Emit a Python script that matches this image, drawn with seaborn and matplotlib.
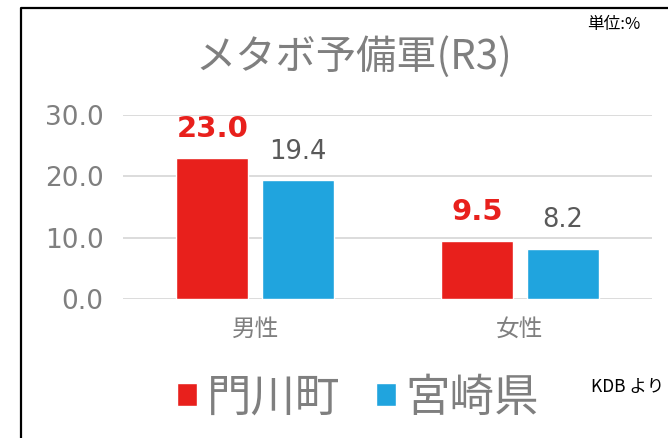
import matplotlib
matplotlib.use("Agg")
import matplotlib.pyplot as plt
import seaborn as sns
import pandas as pd
from matplotlib.lines import Line2D

categories = ["男性", "女性"]
series_names = ["門川町", "宮崎県"]
monkawa = [23.0, 9.5]
miyazaki = [19.4, 8.2]
yticks = [0, 10, 20, 30]
title = "メタボ予備軍(R3)"

sns.set_theme(style="white")
plt.rcParams['font.family'] = ['DejaVu Sans', 'Noto Sans CJK JP']

df = pd.DataFrame({
    "cat": categories * 2,
    "series": [series_names[0]] * 2 + [series_names[1]] * 2,
    "value": monkawa + miyazaki,
})

RED = "#E8201C"
BLUE = "#20A4DE"
GRAY = "#7F7F7F"

W, H = 668, 438
fig = plt.figure(figsize=(W / 100, H / 100), dpi=100)
ax = fig.add_axes([123 / W, 1 - 299 / H, (652 - 123) / W, (299 - 115) / H])

sns.barplot(data=df, x="cat", y="value", hue="series", order=categories,
            hue_order=series_names, palette=[RED, BLUE], width=0.65, gap=0.16,
            ax=ax, legend=True, saturation=1)

ax.set_ylim(0, 30)
ax.set_xlim(-0.5, 1.5)
ax.set_yticks(yticks)
ax.set_yticklabels([f"{v:.1f}" for v in yticks])
ax.yaxis.grid(True, color="#D9D9D9", lw=1.3)
ax.set_axisbelow(True)
for s in ax.spines.values():
    s.set_visible(False)
ax.tick_params(axis='y', length=0, pad=14, labelsize=19, labelcolor=GRAY)
ax.tick_params(axis='x', length=0, pad=13, labelsize=17, labelcolor=GRAY)
ax.set_xlabel("")
ax.set_ylabel("")

conts = ax.containers
ax.bar_label(conts[0], labels=[f"{v:.1f}" for v in monkawa], padding=10.5,
             color=RED, fontsize=21, fontweight="bold", clip_on=False)
ax.bar_label(conts[1], labels=[f"{v:.1f}" for v in miyazaki], padding=11,
             color="#595959", fontsize=18.5, clip_on=False)

handles, labels = ax.get_legend_handles_labels()
ax.get_legend().remove()
leg = fig.legend(handles, labels, loc="center", bbox_to_anchor=(358 / W, 1 - 398 / H),
                 ncol=2, frameon=False, fontsize=32, handlelength=0.45,
                 handleheight=0.42, handletextpad=0.22, columnspacing=0.8,
                 borderaxespad=0, borderpad=0)
for t in leg.get_texts():
    t.set_color(GRAY)

fig.text(354 / W, 1 - 57 / H, title, ha="center", va="center", fontsize=29,
         color=GRAY, family=['Noto Sans CJK JP', 'DejaVu Sans'])
fig.text(640 / W, 1 - 24 / H, "単位:%", ha="right", va="center", fontsize=12,
         color="black", family=['Noto Sans CJK JP', 'DejaVu Sans'])
fig.text(664 / W, 1 - 387 / H, "KDB より", ha="right", va="center", fontsize=12.5,
         color="black", family=['Noto Sans CJK JP', 'DejaVu Sans'])

fig.add_artist(Line2D([21 / W, 21 / W, 1.01], [-0.01, 1 - 8 / H, 1 - 8 / H],
                      transform=fig.transFigure, color="black", lw=1.6))

fig.savefig("out.png", dpi=100)
